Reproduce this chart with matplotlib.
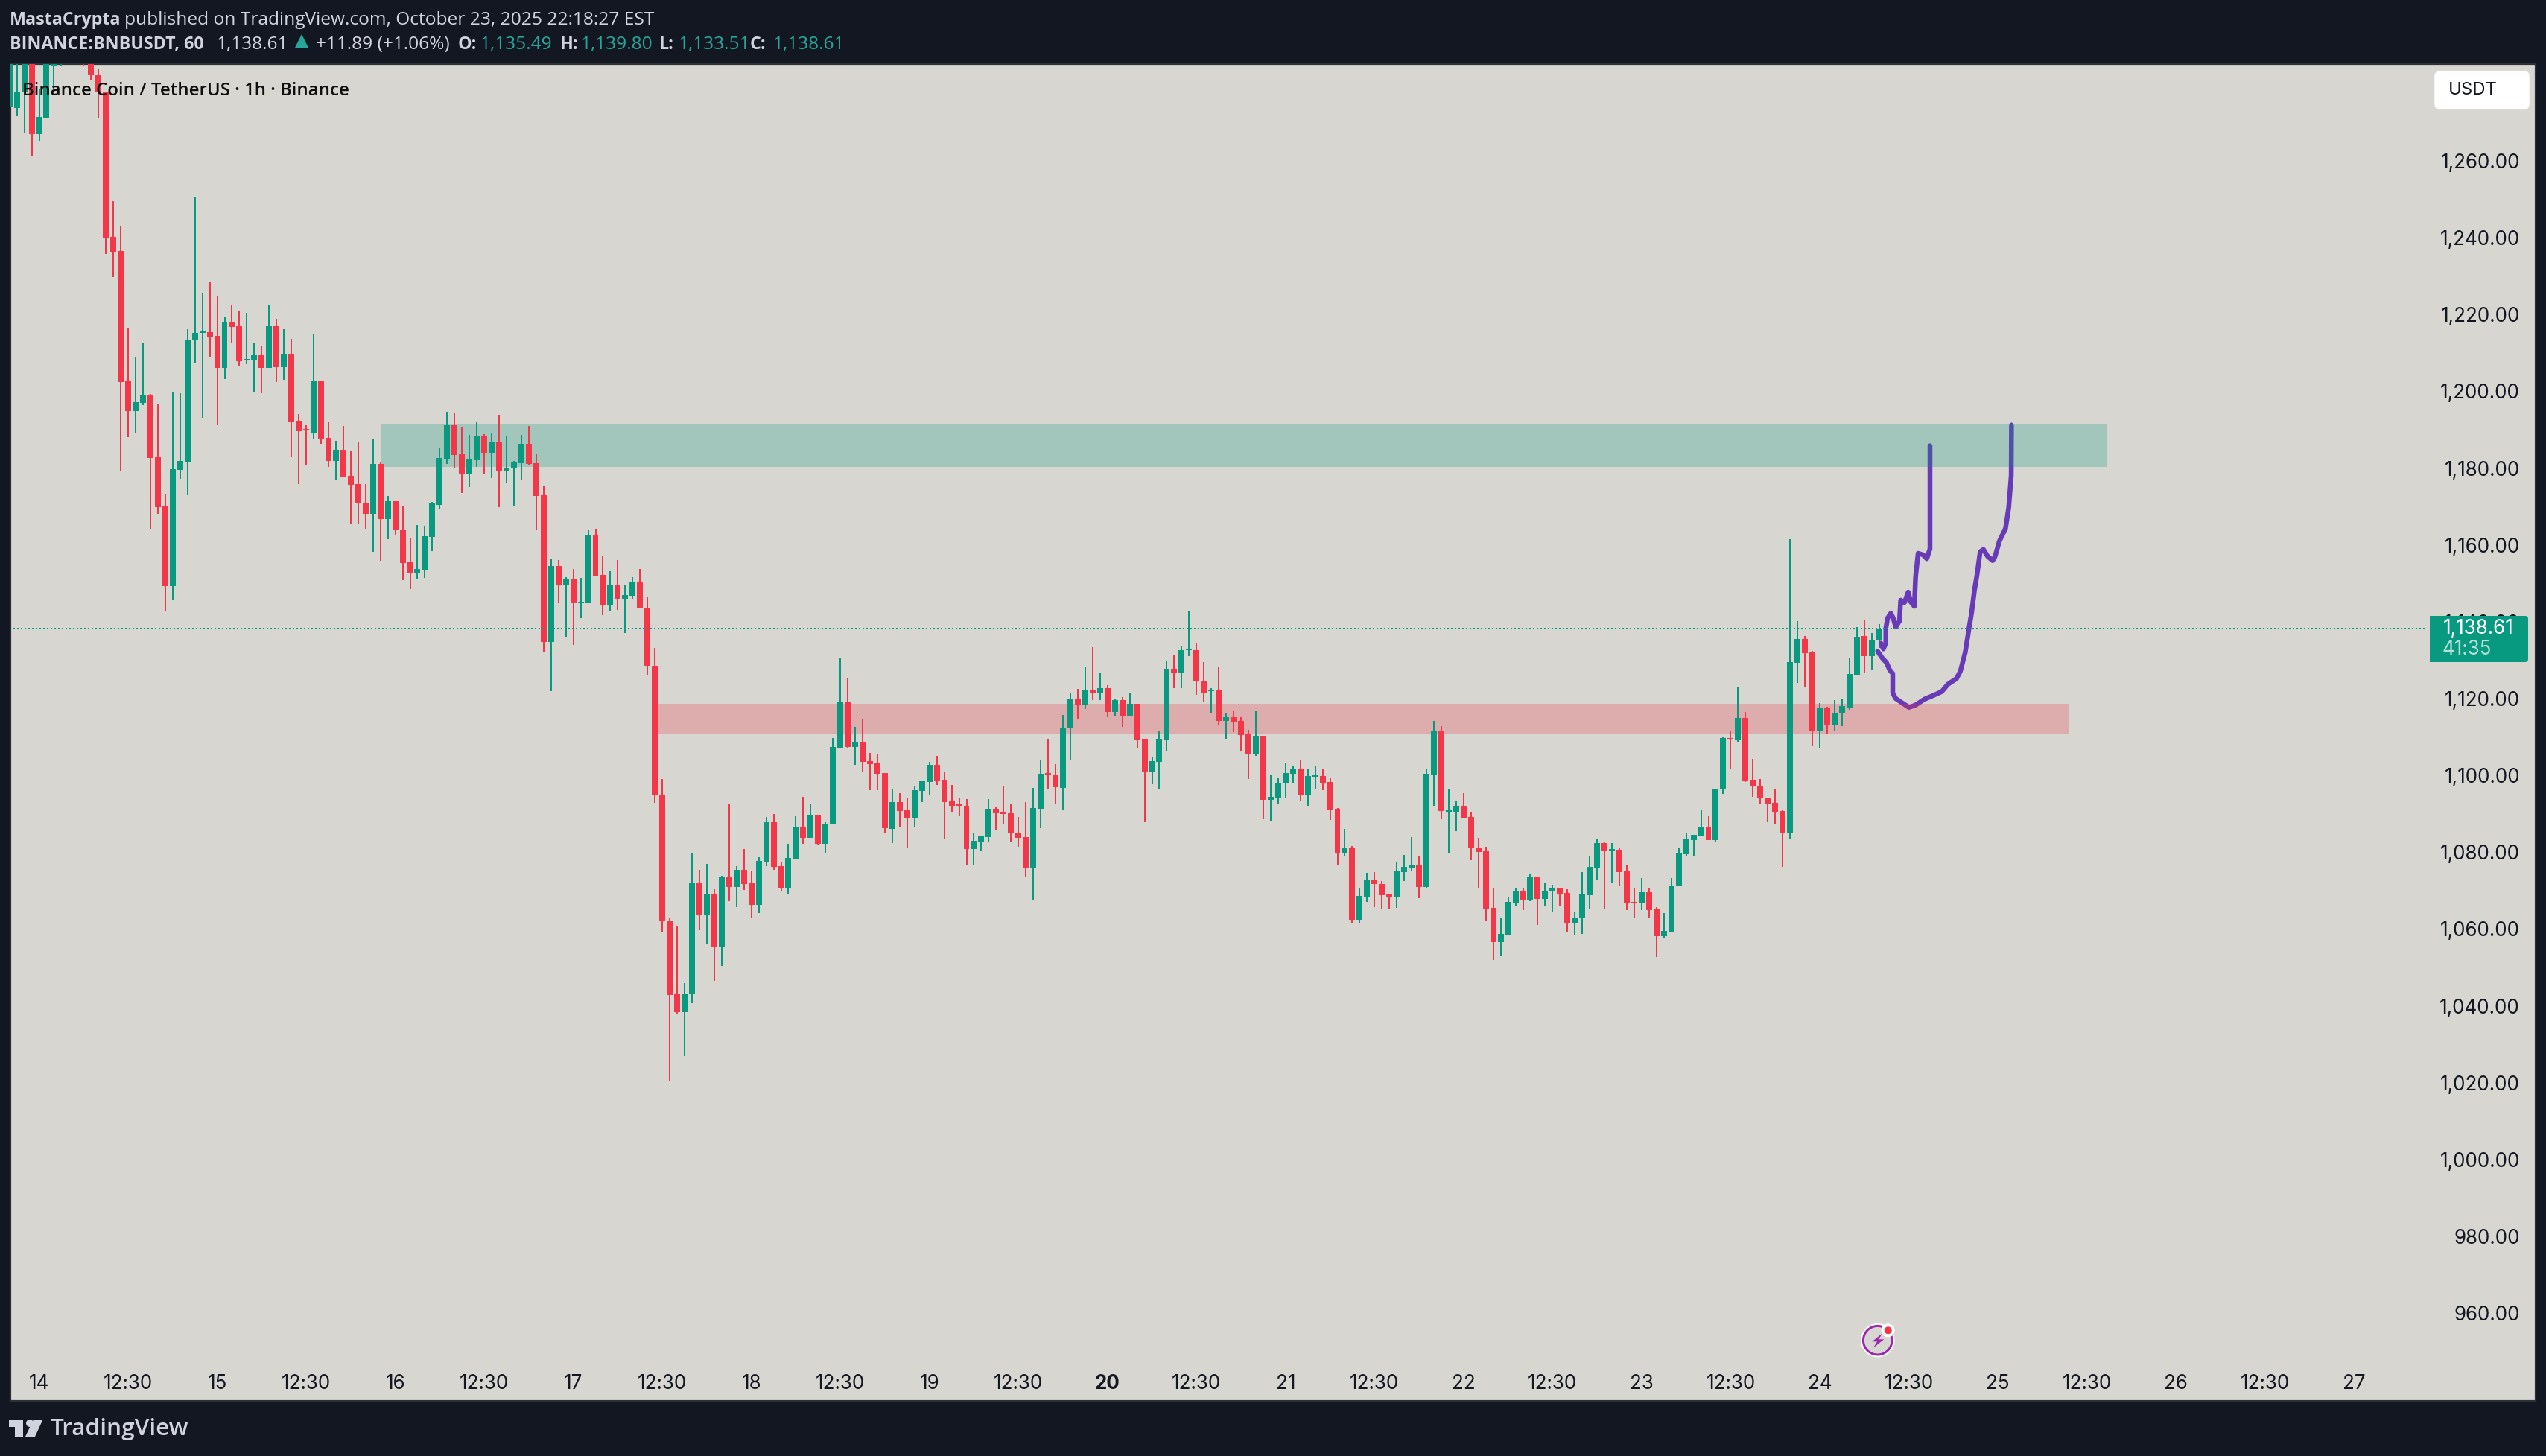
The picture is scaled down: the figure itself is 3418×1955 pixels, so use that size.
import matplotlib
matplotlib.use("Agg")
import matplotlib.pyplot as plt
import numpy as np
from matplotlib.patches import Rectangle, Circle, Polygon, FancyBboxPatch
from matplotlib.transforms import Affine2D

W, H = 3418, 1956
first_hour = -4
opens = [
 1274.3,1274.2,1278.5,1290,1267.4,1271.7,1285.2,1288,1294,1293,
 1292,1290,1282.7,1278.2,1240.6,1236.9,1203,1195.2,1197.4,1199.5,
 1183.2,1170.4,1149.6,1179.9,1182,1213.6,1215.6,1215.8,1214.8,1206.5,
 1218.3,1217.3,1208.5,1208.4,1209.8,1206.5,1217.3,1206.7,1210.2,1192.7,
 1190.5,1189.6,1203.2,1188.2,1182.2,1185.1,1178.4,1176.2,1171.4,1168.5,
 1181.5,1167.1,1171.8,1164.4,1155.9,1153.1,1153.7,1162.5,1170.8,1182.8,
 1191.7,1184,1178.9,1182.6,1188.6,1184.4,1187.3,1179.7,1180.3,1181.7,
 1186.7,1181.7,1173.3,1135.1,1154.9,1150,1151.4,1145.2,1145.2,1163,
 1152.6,1144.6,1149.9,1146.4,1147.1,1150.6,1144,1129,1095.3,1062.6,
 1043.4,1038.7,1043.4,1072.3,1064,1069.3,1055.8,1074,1071.3,1075.8,
 1072.3,1066.6,1077.9,1088.2,1076.8,1070.9,1078.7,1087,1084.1,1090.1,
 1082.5,1087.6,1107.6,1119.4,1107.8,1109.1,1104.1,1103.5,1101,1086.4,
 1093.4,1091.3,1089.3,1096.3,1098.6,1103.2,1099.2,1093.6,1092.9,1092.4,
 1081.2,1083.1,1084.3,1091.6,1090.9,1090.5,1085.5,1084.3,1076.2,1091.7,
 1101,1100.6,1097.1,1112.6,1120.2,1118.8,1122.7,1121.7,1123.1,1116.9,
 1120,1115.7,1119,1109.9,1101.2,1103.9,1109.7,1128.1,1127.2,1132.9,
 1133,1125,1122.3,1122.5,1114.6,1115.5,1114.6,1111.1,1106,1110.7,
 1094,1094.6,1098.3,1100.8,1102,1095.2,1100,1100.2,1098.7,1091.7,
 1080,1081.6,1062.8,1068.8,1073.3,1072.1,1069.4,1068.8,1075.2,1076.4,
 1077,1071.3,1100.6,1112,1091,1090.9,1092.5,1089.6,1081.6,1080.6,
 1065.9,1057,1058.9,1067.2,1070.2,1067.8,1073.8,1068.2,1070.2,1071.1,
 1069.8,1061.8,1063.2,1069.2,1076.4,1082.8,1080.9,1081,1075.4,1067.4,
 1067,1070,1065.5,1058.5,1059.7,1071.5,1079.9,1083.5,1084.7,1087,
 1083.5,1096.7,1110.2,1109.7,1115.3,1099.2,1097.7,1094.6,1093.2,1091.1,
 1085.4,1129.7,1135.9,1132.4,1111.8,1117.9,1113.6,1116.5,1118,1126.5,
 1136.7,1131.4,1135.49,
]
closes = [
 1290,1278.5,1292,1267.4,1271.8,1292,1286,1290,1291,1290,
 1288,1282.6,1278.2,1240.4,1236.7,1202.8,1195.2,1197.5,1199.5,1183,
 1170.2,1149.6,1180.1,1182.2,1213.8,1215.6,1216,1214.6,1206.5,1218.3,
 1217.1,1208.2,1208.9,1209.8,1206.5,1217.3,1206.7,1210.2,1192.5,1190,
 1190.1,1203.2,1188,1182.2,1185.1,1178.2,1176,1171.2,1168.5,1181.5,
 1167.1,1171.8,1164.2,1155.7,1153.1,1154.1,1162.6,1171.2,1183,1191.7,
 1183.8,1178.9,1182.8,1188.6,1184.4,1187.3,1179.7,1180.5,1181.8,1186.7,
 1181.5,1173.1,1135.1,1154.9,1150,1151.4,1145.2,1145.6,1163,1152.4,
 1144.6,1149.9,1146.4,1147.3,1150.6,1143.8,1129,1095.2,1062.4,1043.2,
 1038.7,1043.6,1072.3,1064,1069.3,1055.8,1074,1071.3,1075.8,1072.1,
 1066.6,1078.1,1088.2,1076.5,1070.9,1078.8,1087,1084.1,1090.1,1082.5,
 1087.8,1107.8,1119.4,1107.8,1109.1,1103.9,1103.3,1100.8,1086.7,1093.4,
 1091.1,1089.3,1096.6,1098.9,1103.2,1099,1093.4,1092.4,1092.5,1081.2,
 1083.4,1084.5,1091.6,1090.7,1090.4,1085.3,1084.1,1076.2,1091.9,1100.8,
 1100.6,1097.3,1112.8,1120.2,1118.8,1122.7,1121.7,1123.1,1116.9,1120,
 1115.7,1119,1109.7,1101.2,1104.1,1109.9,1128.1,1127.2,1133,1133.3,
 1124.9,1121.9,1122.6,1114.6,1115.5,1114.4,1110.9,1106,1110.7,1094,
 1094.8,1098.5,1101,1102,1095.2,1100.2,1100.4,1098.5,1091.5,1080,
 1081.6,1062.8,1069,1073.3,1072.1,1069.2,1068.8,1075.4,1076.6,1077,
 1071.3,1100.8,1112,1091.1,1091.4,1092.5,1089.4,1081.4,1080.4,1065.7,
 1057,1059.1,1067.4,1070.2,1067.8,1073.8,1068.2,1070.4,1071.1,1069.6,
 1061.8,1063.4,1069.4,1076.6,1082.8,1080.6,1081.2,1075.2,1067,1067,
 1070,1065.3,1058.5,1059.9,1071.7,1080,1083.7,1084.9,1087,1083.5,
 1096.9,1110.1,1110,1115.3,1099,1097.5,1094.4,1093,1090.9,1085.4,
 1129.8,1135.9,1132.2,1111.8,1117.9,1113.6,1116.6,1118.4,1126.8,1136.4,
 1131.4,1135.5,1138.61,
]
highs = [
 1295,1290,1296,1294,1279,1296,1295,1295,1297,1296,
 1296,1296,1284.4,1278.5,1249.9,1243.5,1216.9,1209.2,1213.1,1199.7,
 1197.2,1173.7,1200,1199.9,1216.6,1250.9,1226.1,1228.8,1225.1,1219.9,
 1222.8,1221.2,1220.8,1213.1,1212.1,1223,1219.3,1216.5,1214,1194.4,
 1191.5,1215.4,1203.2,1192.3,1187.5,1191.3,1184.8,1187.3,1176.2,1188,
 1181.8,1173.1,1171.8,1170.4,1162.1,1165.6,1165.4,1171.6,1185.7,1195,
 1194.7,1191.2,1189,1192.5,1189.2,1189.4,1194.3,1188.6,1182.2,1189,
 1191.4,1184.2,1175.6,1156.6,1156.4,1152,1154.1,1151.8,1164.2,1164.6,
 1157.4,1153.5,1156.4,1149.9,1152,1154.1,1146.7,1133.6,1099.4,1063.4,
 1061,1046.3,1080.1,1075.8,1077.3,1070.7,1074.2,1093,1076.8,1081.2,
 1075.6,1079.1,1089.6,1090.3,1077.9,1082.5,1089.9,1094.8,1092.9,1090.1,
 1088.2,1110.1,1131,1125.6,1113,1115.1,1106.2,1105.8,1101,1096.9,
 1095.7,1094.6,1097.7,1098.9,1103.9,1105.5,1101.4,1097.9,1094.4,1094.2,
 1085.3,1084.7,1094.2,1092,1097.5,1093,1089.5,1093.4,1097.1,1104.5,
 1109.9,1103.3,1116.1,1121.9,1122.9,1128.7,1133.8,1127,1123.9,1120.2,
 1120.8,1121.7,1119,1109.9,1105.3,1111.8,1130.3,1131.8,1134.2,1143.3,
 1134.7,1129.9,1123.1,1128.7,1116.7,1117.1,1115.5,1112.2,1117.1,1110.7,
 1100.6,1099.6,1103.5,1102.9,1104.3,1102,1102.7,1102.2,1099.6,1091.9,
 1086.4,1082,1071.1,1075,1075.2,1072.9,1069.6,1077.9,1079.7,1084.3,
 1079.5,1102,1114.6,1113.2,1096.9,1093.8,1095.8,1090.9,1084.1,1081.8,
 1071.1,1063.4,1068.8,1071,1071,1074.8,1073.8,1072.3,1071.9,1071.1,
 1070.7,1064.9,1075.2,1079.3,1083.7,1083,1082.8,1081.6,1076.9,1071,
 1073.7,1071,1066.1,1064.5,1073.7,1081.4,1085.5,1084.9,1091.5,1090,
 1096.9,1110.5,1112,1123.2,1116.8,1104.7,1099.4,1094.6,1096.7,1091.5,
 1161.9,1140.6,1136.7,1132.8,1119.2,1118.3,1119.9,1120.2,1131.1,1139,
 1141,1137.4,1139.8,
]
lows = [
 1259.5,1272.1,1267.7,1261.7,1265.6,1271.7,1279,1285,1289,1288,
 1285.3,1281.6,1271.4,1236.2,1230.2,1179.5,1188.4,1189.4,1196.8,1164.6,
 1168.5,1143,1146.2,1177.6,1173.5,1207.8,1193.5,1209.2,1191.7,1203.6,
 1213.1,1206.9,1207.4,1200.1,1199.9,1206.5,1202.8,1203.4,1183.4,1176.2,
 1181.1,1187.9,1186.7,1180.7,1177.2,1178,1166,1166,1164.6,1158.6,
 1156.2,1161.9,1162.8,1151.2,1148.9,1151.6,1151.8,1158.8,1169.6,1181.5,
 1180.5,1173.9,1175.5,1180.7,1178.7,1177.8,1170.2,1176.6,1170.4,1177.4,
 1181.1,1164.2,1132.4,1122.3,1145.4,1136.5,1134.3,1141.3,1145.2,1152.4,
 1142.1,1143.1,1143.5,1137.4,1146.4,1143.8,1126.4,1093.3,1059.5,1020.9,
 1038.1,1027.3,1041,1060.1,1056.6,1046.9,1050.8,1067.6,1066,1070.6,
 1063.2,1064.5,1076.8,1075.8,1070.2,1069.3,1078.7,1082.5,1084.1,1082.1,
 1080.1,1087.6,1107.6,1107.4,1103.2,1101.4,1096.6,1096.6,1085.4,1082.8,
 1087,1081.6,1086.8,1093.4,1095.3,1097.9,1083.8,1090.9,1089.9,1076.9,
 1077.2,1080.6,1083,1086.1,1087.6,1083.1,1081.8,1073.8,1068,1086.6,
 1096.9,1093,1091.3,1104.5,1115,1117.7,1120,1120,1115.5,1115.9,
 1113,1115.7,1107.6,1088.2,1098.1,1096.7,1106.8,1123.1,1123.1,1131.4,
 1121.3,1119.6,1116.7,1113.4,1109.9,1111.7,1106.8,1099.4,1105.4,1089,
 1088.4,1093,1094.6,1098.3,1093.8,1092.5,1096.7,1096.5,1088.8,1076.9,
 1079.5,1062,1062,1067.4,1066.1,1065.5,1065.5,1065.9,1072.9,1075.6,
 1068.4,1071.1,1092.5,1089,1080.2,1085.9,1089.4,1078.3,1071.1,1062.4,
 1052.3,1053.5,1058.9,1066.5,1065.3,1067.6,1061.4,1066.3,1064.9,1066.5,
 1059.5,1058.7,1059.1,1065.5,1073.1,1065.5,1072.3,1071.7,1065.3,1063.4,
 1065.3,1063.4,1053.1,1058.1,1059.7,1071.5,1079.3,1079.5,1084.7,1083.5,
 1083,1095.6,1101.9,1109.1,1098.6,1094.8,1092.8,1088.2,1087.8,1076.6,
 1083.7,1124.5,1123.5,1108,1107.4,1111,1112,1113.2,1117.3,1126.5,
 1126.9,1127.8,1133.51,
]
last_price = 1138.61
green_zone = (46.1, 278.7, 1180.7, 1191.9)
red_zone = (83.4, 273.6, 1111.3, 1119.0)
path_a_hours = [248.25,248.58,248.92,248.92,249.15,249.59,249.92,250.25,250.76,250.92,251.43,251.93,252.26,252.76,252.93,253.27,253.94,254.44,254.87,254.87]
path_a_price = [1134.8,1133.3,1134.8,1138.7,1141.3,1142.6,1141.3,1139.0,1140.6,1146.0,1145.4,1148.1,1145.6,1144.4,1152.1,1158.2,1157.8,1156.8,1159.4,1186.2]
path_b_hours = [247.81,248.41,249.02,249.42,249.85,249.85,250.25,251.09,252.03,252.93,254.10,255.44,256.45,257.28,258.45,258.96,259.63,260.13,260.46,260.86,261.2,261.63,262.07,262.64,263.31,263.64,264.21,265.05,265.48,265.82,265.85]
path_b_price = [1132.7,1131.0,1129.7,1127.9,1126.9,1121.8,1120.4,1119.3,1118.1,1118.7,1120.2,1121.3,1122.2,1124.1,1125.6,1127.5,1132.5,1138.7,1142.5,1148.6,1152.5,1158.6,1159.2,1157.4,1156.3,1157.4,1161.3,1164.7,1170.1,1178.5,1191.6]
y_ticks = list(range(960, 1261, 20))
x_labels = ["14","12:30","15","12:30","16","12:30","17","12:30","18","12:30","19","12:30","20","12:30","21","12:30","22","12:30","23","12:30","24","12:30","25","12:30","26","12:30","27"]

BG = "#131722"; PANEL = "#D7D6D1"; GREEN = "#089981"; RED = "#F43649"; TXT = "#D1D4DC"; TEAL = "#26A69A"; INK = "#131722"
px = lambda v: v * 72 / 100

fig = plt.figure(figsize=(W/100, H/100), dpi=100, facecolor=BG)
L, R, T, B = 14, 3404, 87, 1882
ax = fig.add_axes([L/W, 1-B/H, (R-L)/W, (B-T)/H], facecolor=PANEL)
ax.set_xlim((L-52.5)/9.96, (R-52.5)/9.96)
ax.set_ylim(1138.61-(B-845)/5.157, 1138.61+(845-T)/5.157)
for s in ax.spines.values():
    s.set_color("#2E3035"); s.set_linewidth(px(2.2))

o, c, hi, lo = map(np.array, (opens, closes, highs, lows))
hrs = first_hour + np.arange(len(o))
up = c >= o
front = hrs < 246
for mask, z in ((front, 3), (~front, 0.5)):
    for m2, col in ((up & mask, GREEN), (~up & mask, RED)):
        ax.vlines(hrs[m2], lo[m2], hi[m2], color=col, lw=px(2), zorder=z, antialiased=False)
        ax.bar(hrs[m2], np.abs(c-o)[m2], bottom=np.minimum(o, c)[m2], width=0.8, color=col, lw=0, zorder=z, antialiased=False)

ax.plot(path_a_hours, path_a_price, color="#673AB7", lw=px(6.5), solid_capstyle="round", solid_joinstyle="round", zorder=1)
ax.plot(path_b_hours, path_b_price, color="#673AB7", lw=px(6.5), solid_capstyle="round", solid_joinstyle="round", zorder=1)
for (x0, x1, y0, y1), col in ((green_zone, "#089981"), (red_zone, "#F23645")):
    ax.add_patch(Rectangle((x0, y0), x1-x0, y1-y0, fc=col, alpha=0.25, ec="none", zorder=2))
ax.hlines(last_price, ax.get_xlim()[0]+0.4, (3256-52.5)/9.96, color=GREEN, lw=px(2), linestyles=[(0, (1, 2))], zorder=5, antialiased=False)

ax.yaxis.tick_right()
ax.set_yticks(y_ticks)
ax.set_yticklabels([f"{v:,.2f}" for v in y_ticks], fontfamily="Inter", fontsize=px(26), color=INK, ha="right")
ax.tick_params(axis="y", length=0, pad=-px(21))
for lab in ax.get_yticklabels():
    lab.set_transform(lab.get_transform() + Affine2D().translate(0, 3))
ax.set_xticks(np.arange(len(x_labels))*12)
ax.set_xticklabels(x_labels, fontfamily="Inter", fontsize=px(26), color=INK)
ax.tick_params(axis="x", length=0, pad=-px(37))
ax.get_xticklabels()[12].set_fontweight("bold")

# pixel helpers
T_px = Affine2D().scale(1, -1).translate(0, H)
def txt(x, y, s, **k):
    k.setdefault("va", "center"); k.setdefault("ha", "left"); k.setdefault("zorder", 8)
    return fig.text(x/W, 1-y/H, s, **k)
def art(p):
    p.set_transform(T_px); fig.add_artist(p); return p

hf = "Open Sans"; hs = px(24.5); hb = px(23.3)
txt(13, 27, "MastaCrypta", family=hf, fontsize=hb, color=TXT, weight="bold")
txt(167, 27, "published on TradingView.com, October 23, 2025 22:18:27 EST", family=hf, fontsize=hs, color=TXT)
txt(13, 60, "BINANCE:BNBUSDT, 60", family=hf, fontsize=hb, color=TXT, weight="bold")
txt(290.5, 60, "1,138.61", family=hf, fontsize=hs, color=TXT)
art(Polygon([(395.5, 66), (405, 47), (414.5, 66)], fc=TEAL, ec="none", zorder=8))
txt(423.5, 60, "+11.89 (+1.06%)", family=hf, fontsize=hs, color=TXT)
for x, s in ((615, "O:"), (751.5, "H:"), (885, "L:"), (1007, "C:")):
    txt(x, 60, s, family=hf, fontsize=hb, color=TXT, weight="bold")
for x, s in ((645, "1,135.49"), (780, "1,139.80"), (911, "1,133.51"), (1038, "1,138.61")):
    txt(x, 60, s, family=hf, fontsize=hs, color=TEAL)
txt(30.5, 122, "Binance Coin / TetherUS · 1h · Binance", family=hf, fontsize=px(24), color="#0F0F0F", weight="semibold")

# USDT badge
art(FancyBboxPatch((3272, 100), 120, 44, boxstyle="round,pad=4,rounding_size=8", fc="white", ec="#E4E4E2", lw=0.5, zorder=6))
txt(3287, 121, "USDT", family="Inter", fontsize=px(24), color=INK)
# price label
art(FancyBboxPatch((3262, 828), 132, 62, boxstyle="round,pad=0,rounding_size=4", fc=GREEN, ec="none", zorder=6))
art(Rectangle((3262, 828), 20, 62, fc=GREEN, ec="none", zorder=6))
txt(3280, 844, "1,138.61", family="Inter", fontsize=px(26), color="white")
txt(3279, 872, "41:35", family="Inter", fontsize=px(26), color="#B5E0D8")

# lightning icon
cx, cy = 2520.7, 1800.7
art(Circle((cx, cy), 21.5, fc="none", ec="white", lw=px(2.5), zorder=6))
art(Circle((cx, cy), 19.3, fc="none", ec="#9C27B0", lw=px(3), zorder=6))
art(Polygon([(2526.7, 1791.5), (2513.3, 1802.3), (2520, 1802.3), (2515, 1810.7), (2529.3, 1799.3), (2522.3, 1799.3)], fc="#9C27B0", ec="none", zorder=6))
art(Circle((2534.7, 1787.3), 9, fc="white", ec="none", zorder=6))
art(Circle((2534.7, 1787.3), 5, fc="#F23645", ec="none", zorder=7))

# TradingView logo
art(Polygon([(12, 1907), (31, 1907), (31, 1930), (20, 1930), (20, 1917), (12, 1917)], fc=TXT, ec="none", zorder=8))
art(Circle((40, 1912), 5, fc=TXT, ec="none", zorder=8))
art(Polygon([(45, 1907), (57.6, 1907), (47, 1930), (34, 1930)], fc=TXT, ec="none", zorder=8))
txt(68, 1919, "TradingView", family=hf, fontsize=px(31.5), color=TXT, weight="semibold")

fig.savefig("out.png", dpi=100, facecolor=BG)
